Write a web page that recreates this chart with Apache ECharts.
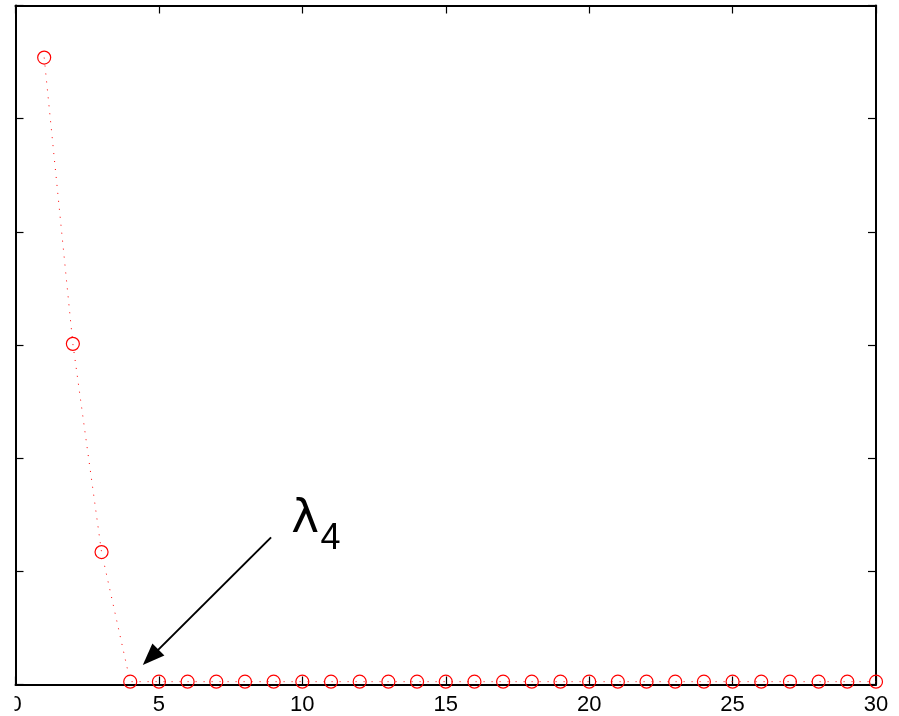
<!DOCTYPE html>
<html>
<head>
<meta charset="utf-8">
<script src="https://cdn.jsdelivr.net/npm/echarts@6/dist/echarts.min.js"></script>
<style>
  html, body { margin: 0; padding: 0; background: #fff; }
  #chart { width: 899px; height: 716px; }
</style>
</head>
<body>
<div id="chart"></div>
<script>
// Eigenvalue index (1..30) and magnitude
const indices = [];
for (let i = 1; i <= 30; i++) indices.push(i);
const eigenvalues = [
  5.54, 3.01, 1.17, 0.025, 0.025, 0.025, 0.025, 0.025, 0.025, 0.025,
  0.025, 0.025, 0.025, 0.025, 0.025, 0.025, 0.025, 0.025, 0.025, 0.025,
  0.025, 0.025, 0.025, 0.025, 0.025, 0.025, 0.025, 0.025, 0.025, 0.025
];
const xTicks = [0, 5, 10, 15, 20, 25, 30];

// Annotation: arrow pointing at the 4th eigenvalue, and its label λ₄
const arrowFrom = [8.91, 1.30];
const arrowTo = [4.71, 0.24];
const lambdaAt = [10.10, 1.455];
const subscriptAt = [10.98, 1.285];

const chart = echarts.init(document.getElementById('chart'), null, { renderer: 'canvas' });

const frameLine = { show: true, onZero: false, lineStyle: { color: '#000', width: 2 } };
const innerTick = { show: true, inside: true, length: 8, lineStyle: { color: '#000', width: 1.2 } };

chart.setOption({
  animation: false,
  backgroundColor: '#fff',
  grid: { left: 15.5, right: 23, top: 5.5, bottom: 31.5 },
  xAxis: [
    {
      type: 'value', position: 'bottom', min: 0, max: 30, interval: 5,
      axisLine: frameLine, axisTick: innerTick, splitLine: { show: false },
      axisLabel: {
        show: true, margin: 9, color: '#000', fontSize: 22,
        fontFamily: 'Liberation Sans, Arial, sans-serif',
        formatter: v => xTicks.includes(v) ? String(v) : ''
      }
    },
    {
      type: 'value', position: 'top', min: 0, max: 30, interval: 5,
      axisLine: frameLine, axisTick: innerTick, splitLine: { show: false },
      axisLabel: { show: false }
    }
  ],
  yAxis: [
    {
      type: 'value', position: 'left', min: 0, max: 6, interval: 1,
      axisLine: frameLine, axisTick: innerTick, splitLine: { show: false },
      axisLabel: { show: false }
    },
    {
      type: 'value', position: 'right', min: 0, max: 6, interval: 1,
      axisLine: frameLine, axisTick: innerTick, splitLine: { show: false },
      axisLabel: { show: false }
    }
  ],
  series: [
    {
      type: 'line',
      data: indices.map((x, i) => [x, eigenvalues[i]]),
      symbol: 'circle',
      symbolSize: 13,
      showSymbol: true,
      itemStyle: { color: 'rgba(0,0,0,0)', borderColor: '#ff0000', borderWidth: 1.2 },
      lineStyle: { color: '#ff0000', width: 1, type: [1, 7] },
      z: 3,
      markLine: {
        silent: true,
        symbol: ['none', 'triangle'],
        symbolSize: [17, 22],
        label: { show: false },
        lineStyle: { color: '#000', width: 2, type: 'solid' },
        itemStyle: { color: '#000' },
        data: [[{ coord: arrowFrom }, { coord: arrowTo }]]
      },
      markPoint: {
        silent: true,
        symbol: 'circle',
        symbolSize: 0,
        data: [
          {
            coord: lambdaAt,
            label: { show: true, position: 'inside', formatter: 'λ', color: '#000',
                     fontSize: 47, fontFamily: 'DejaVu Sans, sans-serif' }
          },
          {
            coord: subscriptAt,
            label: { show: true, position: 'inside', formatter: '4', color: '#000',
                     fontSize: 36, fontFamily: 'Liberation Sans, Arial, sans-serif' }
          }
        ]
      }
    }
  ],
  graphic: [
    // trim the left half of the origin label, flush with the frame
    { type: 'rect', left: 0, top: 688, shape: { width: 14.5, height: 28 }, style: { fill: '#fff' }, z: 100 }
  ]
});
</script>
</body>
</html>
